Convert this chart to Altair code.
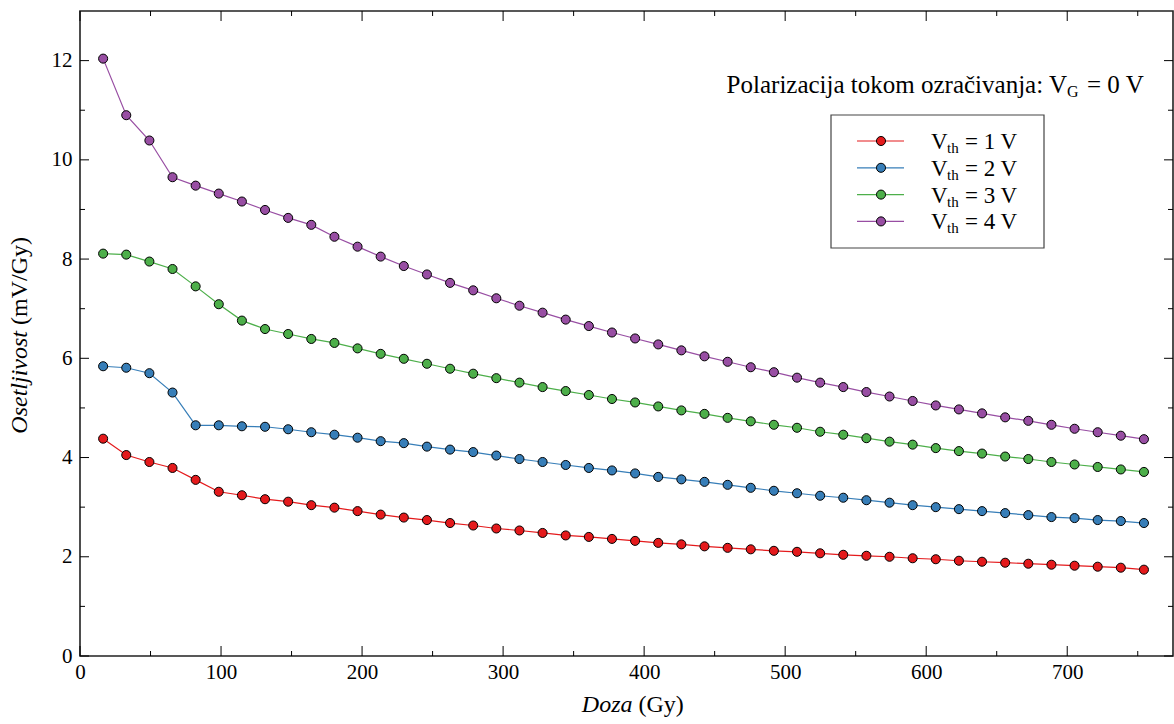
import altair as alt
import pandas as pd

# Dose points (Gy)
doza = [16.4, 32.8, 49.2, 65.6, 82.0, 98.4, 114.8, 131.2, 147.6, 164.0,
        180.4, 196.8, 213.2, 229.6, 246.0, 262.4, 278.8, 295.2, 311.6, 328.0,
        344.4, 360.8, 377.2, 393.6, 410.0, 426.4, 442.8, 459.2, 475.6, 492.0,
        508.4, 524.8, 541.2, 557.6, 574.0, 590.4, 606.8, 623.2, 639.6, 656.0,
        672.4, 688.8, 705.2, 721.6, 738.0, 754.4]

# Sensitivity (mV/Gy) for each threshold voltage
vth1 = [4.38, 4.05, 3.91, 3.79, 3.55, 3.31, 3.24, 3.16, 3.11, 3.04,
        2.99, 2.92, 2.85, 2.79, 2.74, 2.68, 2.63, 2.57, 2.53, 2.48,
        2.43, 2.40, 2.36, 2.32, 2.28, 2.25, 2.21, 2.18, 2.15, 2.12,
        2.10, 2.07, 2.04, 2.02, 2.00, 1.97, 1.95, 1.92, 1.90, 1.88,
        1.86, 1.84, 1.82, 1.80, 1.78, 1.74]
vth2 = [5.84, 5.81, 5.70, 5.31, 4.65, 4.65, 4.63, 4.62, 4.57, 4.51,
        4.46, 4.40, 4.33, 4.29, 4.22, 4.16, 4.11, 4.04, 3.97, 3.91,
        3.85, 3.79, 3.74, 3.68, 3.61, 3.56, 3.51, 3.45, 3.39, 3.33,
        3.28, 3.23, 3.19, 3.14, 3.09, 3.04, 3.00, 2.96, 2.92, 2.88,
        2.84, 2.80, 2.78, 2.74, 2.72, 2.68]
vth3 = [8.11, 8.09, 7.95, 7.80, 7.45, 7.09, 6.76, 6.59, 6.49, 6.39,
        6.31, 6.20, 6.09, 5.99, 5.89, 5.79, 5.69, 5.60, 5.51, 5.42,
        5.34, 5.26, 5.18, 5.11, 5.03, 4.95, 4.88, 4.80, 4.73, 4.66,
        4.60, 4.52, 4.46, 4.39, 4.32, 4.26, 4.19, 4.13, 4.08, 4.02,
        3.97, 3.91, 3.86, 3.81, 3.76, 3.71]
vth4 = [12.04, 10.90, 10.39, 9.65, 9.48, 9.32, 9.16, 8.99, 8.83, 8.69,
        8.45, 8.25, 8.05, 7.86, 7.69, 7.52, 7.37, 7.21, 7.06, 6.92,
        6.78, 6.65, 6.52, 6.40, 6.28, 6.16, 6.04, 5.93, 5.82, 5.72,
        5.61, 5.51, 5.42, 5.32, 5.23, 5.14, 5.05, 4.97, 4.89, 4.81,
        4.74, 4.66, 4.58, 4.51, 4.44, 4.37]

series_names = ["1 V", "2 V", "3 V", "4 V"]
series_colors = ["#e41a1c", "#377eb8", "#4daf4a", "#984ea3"]
series_values = [vth1, vth2, vth3, vth4]

x_major = [0, 100, 200, 300, 400, 500, 600, 700]
x_minor = [50, 150, 250, 350, 450, 550, 650, 750]
y_major = [0, 2, 4, 6, 8, 10, 12]
y_minor = [1, 3, 5, 7, 9, 11]

rows = []
for name, vals in zip(series_names, series_values):
    for d, v in zip(doza, vals):
        rows.append({"serija": name, "doza": d, "osetljivost": v})
df = pd.DataFrame(rows)

W, H = 1093, 645
SERIF = "Liberation Serif"

xscale = alt.Scale(domain=[0, 775], nice=False, zero=False)
yscale = alt.Scale(domain=[0, 13], nice=False, zero=False)
cscale = alt.Scale(domain=series_names, range=series_colors)

xaxis = alt.Axis(values=x_major, ticks=False, domain=False, grid=False, title=None,
                 labelFont=SERIF, labelFontSize=21, labelColor="black",
                 labelPadding=5, labelFlush=False)
yaxis = alt.Axis(values=y_major, ticks=False, domain=False, grid=False, title=None,
                 labelFont=SERIF, labelFontSize=21, labelColor="black",
                 labelPadding=8)

xenc = alt.X("doza:Q", scale=xscale, axis=xaxis)
yenc = alt.Y("osetljivost:Q", scale=yscale, axis=yaxis)

base = alt.Chart(df)
lines = base.mark_line(strokeWidth=1.2).encode(
    x=xenc, y=yenc,
    color=alt.Color("serija:N", scale=cscale, legend=None),
    order="doza:Q",
)
points = base.mark_circle(size=82, opacity=1, stroke="black", strokeWidth=1).encode(
    x=xenc, y=yenc,
    fill=alt.Fill("serija:N", scale=cscale, legend=None),
)


def xticks(values, length):
    src = alt.Chart(pd.DataFrame({"doza": values}))
    bottom = src.mark_rule(color="black", strokeWidth=1).encode(
        x=xenc, y=alt.value(H), y2=alt.value(H - length))
    top = src.mark_rule(color="black", strokeWidth=1).encode(
        x=xenc, y=alt.value(0), y2=alt.value(length))
    return [bottom, top]


def yticks(values, length):
    src = alt.Chart(pd.DataFrame({"osetljivost": values}))
    left = src.mark_rule(color="black", strokeWidth=1).encode(
        y=yenc, x=alt.value(0), x2=alt.value(length))
    right = src.mark_rule(color="black", strokeWidth=1).encode(
        y=yenc, x=alt.value(W), x2=alt.value(W - length))
    return [left, right]


def label(text, x, y, size=22, align="left", style="normal", angle=0,
          baseline="alphabetic"):
    props = dict(font=SERIF, fontSize=size, align=align, baseline=baseline,
                 color="black", fontStyle=style)
    if angle:
        props["angle"] = angle
    return alt.Chart(pd.DataFrame({"t": [text]})).mark_text(**props).encode(
        text="t:N", x=alt.value(x), y=alt.value(y))


layers = [lines, points]
layers += xticks(x_major, 10) + xticks(x_minor, 5)
layers += yticks(y_major, 9) + yticks(y_minor, 5)

# Axis titles (italic quantity name, upright unit)
layers.append(label("Doza", W / 2 + 6, 701, size=24, align="right", style="italic"))
layers.append(label("(Gy)", W / 2 + 12, 701, size=24, align="left"))
layers.append(label("Osetljivost", -60, 320, size=24, align="right",
                    style="italic", angle=270, baseline="middle"))
layers.append(label("(mV/Gy)", -60, 314, size=24, align="left",
                    angle=270, baseline="middle"))

# Bias annotation
layers.append(label("Polarizacija tokom ozračivanja: V", 987, 82, size=25, align="right"))
layers.append(label("G", 987, 86, size=16, align="left"))
layers.append(label("= 0 V", 1007, 82, size=25, align="left"))

# Legend
box = alt.Chart(pd.DataFrame({"a": [0]})).mark_rect(
    fill="white", stroke="#444444", strokeWidth=1.2).encode(
    x=alt.value(751), x2=alt.value(964), y=alt.value(104), y2=alt.value(237))
layers.append(box)
for i, (name, color) in enumerate(zip(series_names, series_colors)):
    cy = 130 + 26.8 * i
    layers.append(alt.Chart(pd.DataFrame({"a": [0]})).mark_rule(
        color=color, strokeWidth=1.2).encode(
        x=alt.value(777), x2=alt.value(824), y=alt.value(cy)))
    layers.append(alt.Chart(pd.DataFrame({"a": [0]})).mark_circle(
        size=82, opacity=1, fill=color, stroke="black", strokeWidth=1).encode(
        x=alt.value(801), y=alt.value(cy)))
    layers.append(label("V", 851, cy + 8, size=23))
    layers.append(label("th", 867, cy + 12, size=15))
    layers.append(label("= " + name, 885, cy + 8, size=23))

chart = alt.layer(*layers).properties(
    width=W, height=H,
    background="white",
    padding={"left": 80, "top": 11, "right": 1, "bottom": 68},
    autosize=alt.AutoSizeParams(type="none"),
).configure_view(stroke="#222222", strokeWidth=1.6)

chart.save("out.html", embed_options={"renderer": "svg", "actions": False})
